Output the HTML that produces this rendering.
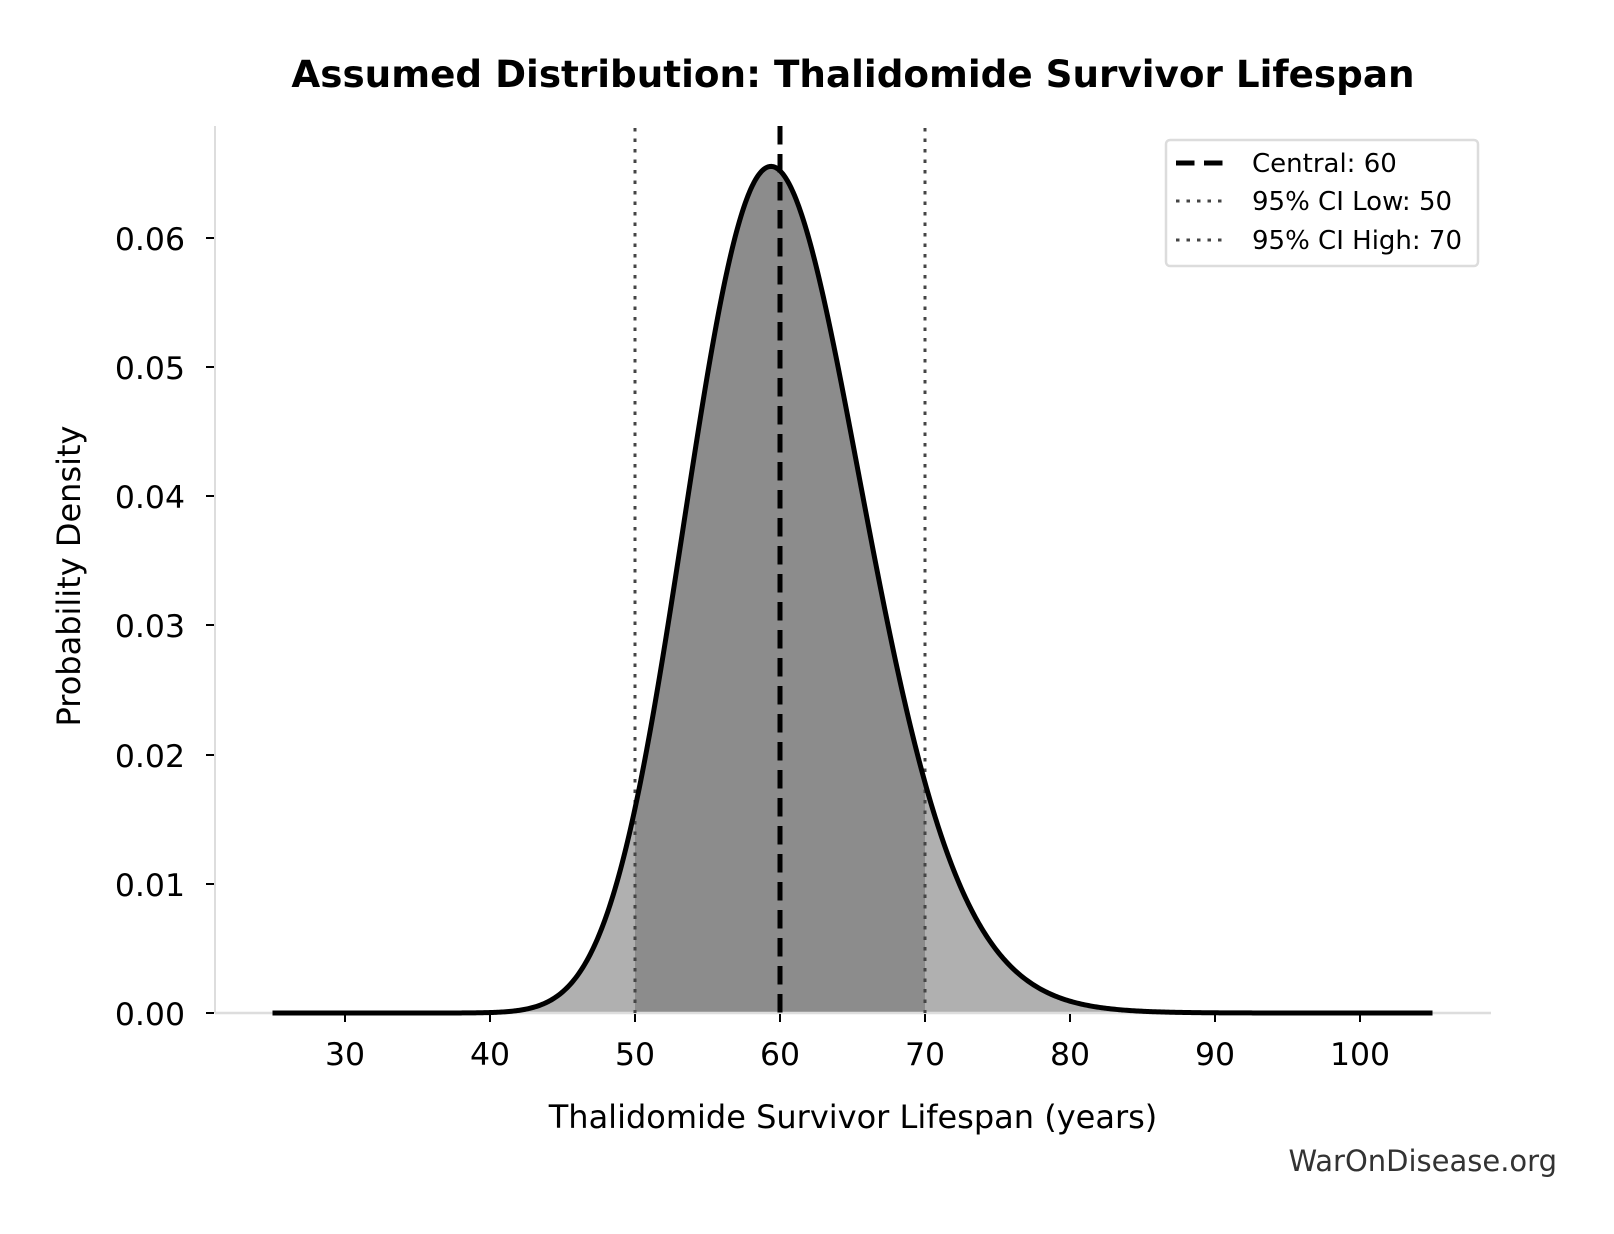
<!DOCTYPE html>
<html><head><meta charset="utf-8"><style>
html,body{margin:0;padding:0;background:#fff;}
svg{display:block;font-family:"DejaVu Sans","Liberation Sans",sans-serif;}
</style></head><body>
<svg id="s" width="1614" height="1234" viewBox="0 0 1614 1234" xmlns="http://www.w3.org/2000/svg">
<rect width="1614" height="1234" fill="#fff"/>
<path id="fillAll" fill="#b0b0b0" stroke="none"/>
<path id="fillMid" fill="#8c8c8c" stroke="none"/>
<line x1="215" y1="126" x2="215" y2="1013" stroke="#dddddd" stroke-width="2"/>
<line x1="215" y1="1013" x2="1491" y2="1013" stroke="#dddddd" stroke-width="2.5"/>
<line x1="635" y1="128" x2="635" y2="1013" stroke="#444" stroke-width="3" stroke-dasharray="3.5,7"/>
<line x1="925" y1="128" x2="925" y2="1013" stroke="#444" stroke-width="3" stroke-dasharray="3.5,7"/>
<path id="curve" fill="none" stroke="#000" stroke-width="5" stroke-linejoin="round"/>
<line x1="780" y1="126" x2="780" y2="1013" stroke="#000" stroke-width="5" stroke-dasharray="18.5,9.5"/>
<g stroke="#000" stroke-width="2">
<line x1="345" y1="1014" x2="345" y2="1022"/><line x1="490" y1="1014" x2="490" y2="1022"/>
<line x1="635" y1="1014" x2="635" y2="1022"/><line x1="780" y1="1014" x2="780" y2="1022"/>
<line x1="925" y1="1014" x2="925" y2="1022"/><line x1="1070" y1="1014" x2="1070" y2="1022"/>
<line x1="1215" y1="1014" x2="1215" y2="1022"/><line x1="1360" y1="1014" x2="1360" y2="1022"/>
<line x1="206" y1="1013" x2="214" y2="1013"/><line x1="206" y1="884" x2="214" y2="884"/>
<line x1="206" y1="755" x2="214" y2="755"/><line x1="206" y1="625" x2="214" y2="625"/>
<line x1="206" y1="496" x2="214" y2="496"/><line x1="206" y1="367" x2="214" y2="367"/>
<line x1="206" y1="238" x2="214" y2="238"/>
</g>
<g font-size="31.5" fill="#000" text-anchor="middle">
<text x="345" y="1065">30</text><text x="490" y="1065">40</text><text x="635" y="1065">50</text>
<text x="780" y="1065">60</text><text x="925" y="1065">70</text><text x="1070" y="1065">80</text>
<text x="1215" y="1065">90</text><text x="1360" y="1065">100</text>
</g>
<g font-size="31.5" fill="#000" text-anchor="end">
<text x="185" y="1025">0.00</text><text x="185" y="896">0.01</text><text x="185" y="767">0.02</text>
<text x="185" y="637">0.03</text><text x="185" y="508">0.04</text><text x="185" y="379">0.05</text>
<text x="185" y="250">0.06</text>
</g>
<text x="853" y="1128" font-size="32" text-anchor="middle">Thalidomide Survivor Lifespan (years)</text>
<text transform="translate(80,576) rotate(-90)" font-size="32" text-anchor="middle">Probability Density</text>
<text x="853" y="87" font-size="37.3" font-weight="bold" text-anchor="middle">Assumed Distribution: Thalidomide Survivor Lifespan</text>
<text x="1557" y="1171" font-size="29" fill="#333" text-anchor="end">WarOnDisease.org</text>
<rect x="1166" y="140" width="312" height="126" rx="4" fill="#fff" stroke="#dcdcdc" stroke-width="2.5"/>
<line x1="1176" y1="163" x2="1224" y2="163" stroke="#000" stroke-width="5" stroke-dasharray="18.5,9.5"/>
<line x1="1176" y1="201" x2="1224" y2="201" stroke="#444" stroke-width="3" stroke-dasharray="3.5,7"/>
<line x1="1176" y1="240" x2="1224" y2="240" stroke="#444" stroke-width="3" stroke-dasharray="3.5,7"/>
<g font-size="26" fill="#000">
<text x="1252" y="172">Central: 60</text>
<text x="1252" y="210">95% CI Low: 50</text>
<text x="1252" y="249">95% CI High: 70</text>
</g>
</svg>
<script>
(function(){
var s=0.102,mu=Math.log(60);
function f(x){var l=Math.log(x)-mu;return Math.exp(-l*l/(2*s*s))/(x*s*Math.sqrt(2*Math.PI));}
function X(v){return 345+(v-30)*14.5;}
function Y(d){return 1013-d*12920;}
var pts=[],mid=[];
for(var v=25;v<=105.0001;v+=0.1){var p=X(v).toFixed(2)+','+Y(f(v)).toFixed(2);pts.push(p);if(v>=49.99&&v<=70.01)mid.push(p);}
document.getElementById('curve').setAttribute('d','M'+pts.join('L'));
document.getElementById('fillAll').setAttribute('d','M272.5,1013L'+pts.join('L')+'L1432.5,1013Z');
document.getElementById('fillMid').setAttribute('d','M635,1013L'+mid.join('L')+'L925,1013Z');
})();
</script>
</body></html>
